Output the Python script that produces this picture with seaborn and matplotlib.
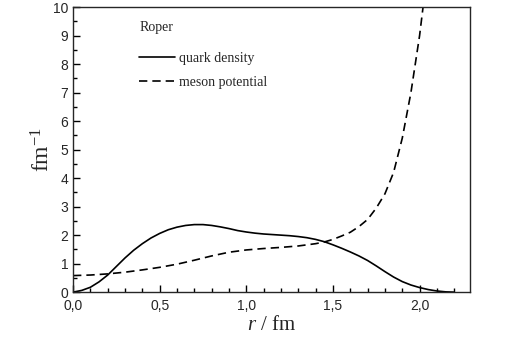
import numpy as np
import pandas as pd
import matplotlib
matplotlib.use("Agg")
import matplotlib.pyplot as plt
import seaborn as sns

# values
r_quark = [0.00, 0.05, 0.10, 0.15, 0.20, 0.25, 0.30, 0.35, 0.40, 0.45, 0.50, 0.55,
           0.60, 0.65, 0.70, 0.75, 0.80, 0.85, 0.90, 0.95, 1.00, 1.05, 1.10, 1.15,
           1.20, 1.25, 1.30, 1.35, 1.40, 1.45, 1.50, 1.55, 1.60, 1.65, 1.70, 1.75,
           1.80, 1.85, 1.90, 1.95, 2.00, 2.05, 2.10, 2.15, 2.20]
quark = [0.00, 0.06, 0.17, 0.36, 0.60, 0.90, 1.20, 1.47, 1.70, 1.90, 2.06, 2.19,
         2.28, 2.34, 2.37, 2.37, 2.34, 2.29, 2.23, 2.16, 2.11, 2.07, 2.04, 2.02,
         2.00, 1.98, 1.95, 1.91, 1.85, 1.77, 1.66, 1.54, 1.41, 1.27, 1.11, 0.92,
         0.72, 0.53, 0.37, 0.25, 0.16, 0.09, 0.04, 0.01, 0.00]

r_meson = [0.00, 0.10, 0.20, 0.30, 0.40, 0.50, 0.60, 0.70, 0.80, 0.90, 1.00, 1.10,
           1.20, 1.30, 1.40, 1.45, 1.50, 1.55, 1.60, 1.65, 1.70, 1.75, 1.80, 1.85,
           1.90, 1.95, 2.00, 2.02, 2.04]
meson = [0.58, 0.60, 0.64, 0.70, 0.78, 0.87, 0.98, 1.12, 1.27, 1.40, 1.48, 1.53,
         1.57, 1.62, 1.70, 1.76, 1.85, 1.97, 2.10, 2.30, 2.55, 2.95, 3.45, 4.20,
         5.40, 7.00, 9.00, 10.0, 11.0]

df_q = pd.DataFrame({"r": r_quark, "y": quark})
df_m = pd.DataFrame({"r": r_meson, "y": meson})

sns.set_style("ticks")
plt.rcParams["font.family"] = ["Liberation Sans", "DejaVu Sans"]
plt.rcParams["axes.unicode_minus"] = False
plt.rcParams["mathtext.fontset"] = "custom"
plt.rcParams["mathtext.it"] = "Liberation Serif:italic"
plt.rcParams["mathtext.rm"] = "Liberation Serif"

fig, ax = plt.subplots(figsize=(5.18, 3.58), dpi=100)
fig.subplots_adjust(left=0.141, right=0.907, top=0.980, bottom=0.184)

sns.lineplot(data=df_q, x="r", y="y", ax=ax, color="black", lw=1.2,
             label="quark density")
sns.lineplot(data=df_m, x="r", y="y", ax=ax, color="black", lw=1.2,
             linestyle=(0, (5, 3)), label="meson potential")

ax.set_xlim(0, 2.29)
ax.set_ylim(0, 10)
ax.set_xticks([0, 0.5, 1.0, 1.5, 2.0])
ax.set_xticklabels(["0,0", "0,5", "1,0", "1,5", "2,0"])
ax.set_xticks(np.arange(0, 2.3, 0.1), minor=True)
ax.set_yticks(range(0, 11))
ax.set_yticks(np.arange(0, 10.01, 0.5), minor=True)
ax.tick_params(which="both", direction="in", labelsize=10, width=1, color="black",
               top=False, right=False)
ax.tick_params(which="major", length=5)
ax.tick_params(which="minor", length=3)
ax.tick_params(axis="x", pad=5)
for s in ax.spines.values():
    s.set_linewidth(1.0)

serif = ["Liberation Serif", "DejaVu Serif"]
ax.set_xlabel(r"$r$ / fm", fontsize=15, family=serif, labelpad=2)
ax.set_ylabel(r"fm$^{\mathregular{-1}}$", fontsize=17, family=serif, labelpad=-1)

leg = ax.legend(loc="upper left", bbox_to_anchor=(0.135, 0.995), frameon=False,
                title="Roper", prop={"family": serif, "size": 10}, handlelength=2.6,
                handletextpad=0.25, labelspacing=0.75, alignment="left")
leg.get_title().set_family(serif)
leg.get_title().set_fontsize(10)
leg._legend_box.sep = 13

fig.savefig("out.png", dpi=100)
